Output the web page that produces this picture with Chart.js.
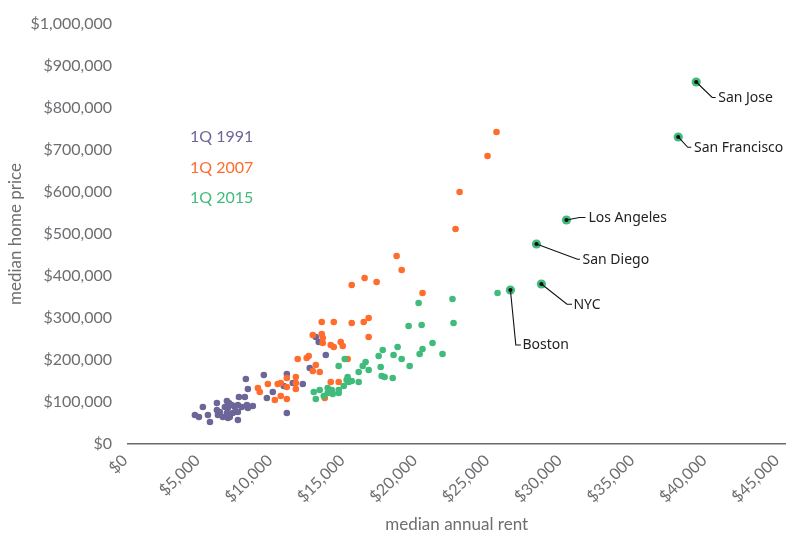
<!DOCTYPE html>
<html><head><meta charset="utf-8">
<script src="https://cdn.jsdelivr.net/npm/chart.js@4"></script>
<style>html,body{margin:0;padding:0;background:#fff}#wrap{width:790px;height:533px;position:relative}</style>
</head><body><div id="wrap"><canvas id="c"></canvas></div>
<script>
// ---- data ----
const seriesNames = ['1Q 1991', '1Q 2007', '1Q 2015'];

const rent1991 = [4620,4900,5170,5520,5660,6140,6140,6340,6210,6550,6690,6830,6970,6830,6900,6900,7170,7030,7240,7380,7590,7590,7590,7660,7860,8070,8210,8280,8140,8280,8620,9380,9590,10000,10760,10970,10970,11380,12070,12550,12970,13170,13660];
const price1991 = [69000,64300,88100,69000,52400,97600,81000,76200,69000,64300,88100,102400,97600,73800,85700,61900,92900,64300,73800,88100,92900,76200,57100,111900,88100,111900,92900,85700,154800,131000,90500,164300,109500,123800,138100,166700,73800,145200,142900,181000,254800,242900,211900];

const rent2007 = [8970,9100,9660,10140,10340,10550,10550,10970,10970,10970,11590,11590,11590,11720,12340,12480,12760,12970,13240,12760,13380,13450,13450,14000,14210,14690,14830,13380,14210,15450,16280,16620,16620,14000,14550,13590,15170,15450,16340,17170,18550,18900,20340,22620,22900,24830,25450];
const price2007 = [133300,123800,142900,104800,142900,145200,114300,157100,135700,107100,159500,145200,131000,202400,204800,209500,173800,188100,171400,259500,261900,252400,240500,235700,231000,242900,233300,290500,290500,288100,290500,300000,254800,147600,147600,109500,202400,378600,395200,385700,447600,414300,359500,511900,600000,685700,742900];

const rent2015 = [12830,12970,13240,13520,13790,13790,13930,14070,14140,14550,14550,14900,14550,14970,15100,15170,15240,15450,15930,15930,16210,16410,16620,17310,17590,17450,17520,17720,18280,18340,18620,18900,19450,19380,20070,20280,20140,20340,21030,21720,22410,22480,25520,26410,28550,28210,30280,38000,39240];
const price2015 = [123800,107100,128600,114300,133300,121400,126200,128600,119000,128600,121400,138100,185700,202400,152400,159500,147600,150000,147600,171400,185700,195200,176200,209500,223800,183300,161900,159500,157100,211900,231000,202400,185700,281000,335700,283300,214300,226200,240500,214300,345200,288100,359500,366700,381000,476200,533300,731000,861900];

// labelled 2015 metros (index into the 2015 arrays)
const cityNames = ['Boston', 'NYC', 'San Diego', 'Los Angeles', 'San Francisco', 'San Jose'];
const cityIndex = [43, 44, 45, 46, 47, 48];

const xTickValues = [0,5000,10000,15000,20000,25000,30000,35000,40000,45000];
const yTickValues = [0,100000,200000,300000,400000,500000,600000,700000,800000,900000,1000000];

// ---- styling / layout ----
const colors = ['#6c6698', '#ff6c2c', '#3fbb7b'];
const labelLayout = {
  'San Jose':      {ex: 16,  ey: 15.5, hx: 19.5, tx: 22},
  'San Francisco': {ex: 9.5, ey: 10.3, hx: 13,   tx: 15.7},
  'Los Angeles':   {ex: 13,  ey: -2.5, hx: 19,   tx: 22},
  'San Diego':     {ex: 41,  ey: 15.3, hx: 43.5, tx: 46},
  'NYC':           {ex: 25.6,ey: 20.3, hx: 30.6, tx: 32},
  'Boston':        {ex: 5.4, ey: 55,   hx: 10.4, tx: 12}
};
const axisFont = "Lato, 'Open Sans', sans-serif";
const grayText = '#6d6e71';

const toPts = (xs, ys) => xs.map((x, i) => ({x, y: ys[i]}));
const money = v => '$' + Number(v).toLocaleString('en-US');

const isCity = i => cityIndex.includes(i);

const cityPlugin = {
  id: 'cityLabels',
  afterDatasetsDraw(chart) {
    const ctx = chart.ctx;
    const meta = chart.getDatasetMeta(2);
    ctx.save();
    cityIndex.forEach((idx, k) => {
      const el = meta.data[idx];
      const name = cityNames[k];
      const L = labelLayout[name];
      const x = el.x, y = el.y;
      ctx.beginPath();
      ctx.strokeStyle = '#111';
      ctx.lineWidth = 1.1;
      ctx.moveTo(x, y);
      ctx.lineTo(x + L.ex, y + L.ey);
      ctx.lineTo(x + L.hx, y + L.ey);
      ctx.stroke();
      ctx.beginPath();
      ctx.fillStyle = '#111';
      ctx.arc(x, y, 2.1, 0, Math.PI * 2);
      ctx.fill();
      ctx.font = "14px 'Noto Sans', 'Open Sans', sans-serif";
      ctx.fillStyle = '#222';
      ctx.textAlign = 'left';
      ctx.textBaseline = 'middle';
      ctx.fillText(name, x + L.tx, y + L.ey + 0.5);
    });
    ctx.restore();
  }
};

const legendPlugin = {
  id: 'seriesText',
  afterDraw(chart) {
    const ctx = chart.ctx;
    ctx.save();
    ctx.font = '16px ' + axisFont;
    ctx.textAlign = 'left';
    ctx.textBaseline = 'middle';
    const ys = [137, 168, 198];
    seriesNames.forEach((n, i) => {
      ctx.fillStyle = colors[i];
      ctx.fillText(n, 190, ys[i]);
    });
    ctx.restore();
  }
};

new Chart(document.getElementById('c'), {
  type: 'scatter',
  data: {
    datasets: [
      {label: seriesNames[0], data: toPts(rent1991, price1991), backgroundColor: colors[0], borderWidth: 0, pointRadius: 3.3, order: 2},
      {label: seriesNames[1], data: toPts(rent2007, price2007), backgroundColor: colors[1], borderWidth: 0, pointRadius: 3.3, order: 1},
      {label: seriesNames[2], data: toPts(rent2015, price2015), backgroundColor: colors[2], borderWidth: 0,
       pointRadius: c => isCity(c.dataIndex) ? 4.6 : 3.3, order: 0}
    ]
  },
  options: {
    responsive: true,
    maintainAspectRatio: false,
    animation: false,
    events: [],
    layout: {padding: {top: 24, right: 0, bottom: 0, left: 0}},
    plugins: {legend: {display: false}, tooltip: {enabled: false}},
    scales: {
      x: {
        type: 'linear', min: 0, max: 45400,
        afterBuildTicks: s => { s.ticks = xTickValues.map(v => ({value: v})); },
        afterFit: s => { s.height = 89; s.paddingRight = 0; s.paddingLeft = 0; },
        grid: {display: true, drawOnChartArea: false, drawTicks: false},
        border: {display: true, color: '#6a6a6a', width: 1.5},
        ticks: {autoSkip: false, minRotation: 45, maxRotation: 45, padding: 7, labelOffset: -3, color: grayText,
                font: {family: axisFont, size: 16}, callback: v => money(v)},
        title: {display: true, text: 'median annual rent', color: grayText,
                font: {family: axisFont, size: 17, lineHeight: 1}, padding: {top: 0, bottom: 0}}
      },
      y: {
        type: 'linear', min: 0, max: 1000000,
        afterBuildTicks: s => { s.ticks = yTickValues.map(v => ({value: v})); },
        afterFit: s => { s.width = 128; s.paddingTop = 0; s.paddingBottom = 0; },
        grid: {display: false, drawTicks: false},
        border: {display: false},
        ticks: {padding: 16, color: grayText, font: {family: axisFont, size: 16}, callback: v => money(v)},
        title: {display: true, text: 'median home price', color: grayText,
                font: {family: axisFont, size: 17, lineHeight: 1}, padding: {top: 7, bottom: 0}}
      }
    }
  },
  plugins: [cityPlugin, legendPlugin]
});
</script>
</body></html>
